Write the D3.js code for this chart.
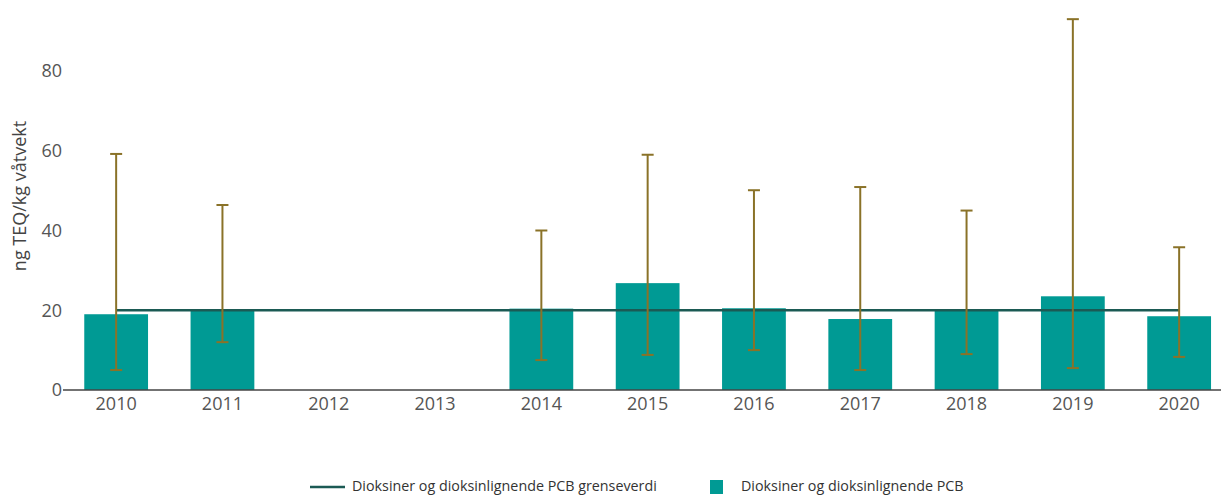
<!DOCTYPE html>
<html lang="no">
<head>
<meta charset="UTF-8">
<title>Dioksiner</title>
<style>
  body { margin: 0; background: #fff; }
  svg { font-family: "Open Sans", sans-serif; }
</style>
</head>
<body>
<svg></svg>
<script src="https://d3js.org/d3.v7.min.js"></script>
<script>
const years = ["2010", "2011", "2012", "2013", "2014", "2015", "2016", "2017", "2018", "2019", "2020"];
const values = [19.0, 20.3, null, null, 20.4, 26.8, 20.5, 17.8, 20.0, 23.5, 18.5];
const errLow = [5.0, 12.0, null, null, 7.5, 8.8, 10.0, 5.0, 9.0, 5.5, 8.3];
const errHigh = [59.2, 46.4, null, null, 40.0, 59.0, 50.1, 50.9, 45.0, 93.0, 35.8];
const limit = [20, 20, 20, 20, 20, 20, 20, 20, 20, 20, 20];
const yTicks = [0, 20, 40, 60, 80];

const width = 1221;
const height = 495;
const padding = { top: 10, right: 0, bottom: 105, left: 63 };

const svg = d3.select('svg').attr('width', width).attr('height', height);

const data = years.map((y, i) => ({ year: y, value: values[i], lo: errLow[i], hi: errHigh[i], limit: limit[i] }));

const xScale = d3.scaleBand()
    .domain(years)
    .range([padding.left, padding.left + 106.3 * 11])
    .paddingInner(0.4)
    .paddingOuter(0.2);

const yScale = d3.scaleLinear()
    .domain([0, 80])
    .range([390, 71]);

const cx = d => xScale(d.year) + xScale.bandwidth() / 2;

// y axis labels (no line)
svg.append("g")
    .attr("transform", `translate(${padding.left},0)`)
    .call(d3.axisLeft(yScale).tickValues(yTicks).tickSize(0).tickPadding(1))
    .call(g => g.select(".domain").remove())
    .call(g => g.selectAll("text").attr("fill", "#555").attr("font-size", 18).attr("font-family", "Open Sans"));

svg.append("text")
    .attr("transform", "translate(26,196) rotate(-90)")
    .attr("text-anchor", "middle")
    .attr("fill", "#444")
    .attr("font-size", 18)
    .text("ng TEQ/kg våtvekt");

// bars
svg.append("g")
    .attr("fill", "#009a94")
  .selectAll("rect")
  .data(data.filter(d => d.value != null))
  .join("rect")
    .attr("x", d => xScale(d.year))
    .attr("y", d => yScale(d.value))
    .attr("width", xScale.bandwidth())
    .attr("height", d => yScale(0) - yScale(d.value));

// limit line
const line = d3.line().x(cx).y(d => yScale(d.limit));
svg.append("path")
    .datum(data)
    .attr("fill", "none")
    .attr("stroke", "#1b5a54")
    .attr("stroke-width", 2.5)
    .attr("d", line);

// error bars
const eb = svg.append("g")
    .attr("stroke", "#8a7228")
    .attr("stroke-width", 2)
  .selectAll("g")
  .data(data.filter(d => d.hi != null))
  .join("g");
eb.append("line")
    .attr("x1", cx).attr("x2", cx)
    .attr("y1", d => yScale(d.lo)).attr("y2", d => yScale(d.hi));
eb.append("line")
    .attr("x1", d => cx(d) - 6).attr("x2", d => cx(d) + 6)
    .attr("y1", d => yScale(d.hi)).attr("y2", d => yScale(d.hi));
eb.append("line")
    .attr("x1", d => cx(d) - 6).attr("x2", d => cx(d) + 6)
    .attr("y1", d => yScale(d.lo)).attr("y2", d => yScale(d.lo));

// x axis
svg.append("g")
    .attr("transform", `translate(0,${yScale(0)})`)
    .call(d3.axisBottom(xScale).tickSize(0).tickPadding(7))
    .call(g => g.select(".domain").attr("stroke", "#444").attr("stroke-width", 1.5)
        .attr("d", `M${padding.left},0H${width}`))
    .call(g => g.selectAll("text").attr("fill", "#555").attr("font-size", 18).attr("font-family", "Open Sans"));

// legend
const legend = svg.append("g").attr("font-size", 14.3).attr("fill", "#333");
legend.append("line")
    .attr("x1", 310).attr("x2", 345).attr("y1", 487).attr("y2", 487)
    .attr("stroke", "#1b5a54").attr("stroke-width", 2.5);
legend.append("text").attr("x", 352).attr("y", 491).text("Dioksiner og dioksinlignende PCB grenseverdi");
legend.append("rect").attr("x", 710).attr("y", 480).attr("width", 13).attr("height", 14).attr("fill", "#009a94");
legend.append("text").attr("x", 741).attr("y", 491).text("Dioksiner og dioksinlignende PCB");
</script>
</body>
</html>
